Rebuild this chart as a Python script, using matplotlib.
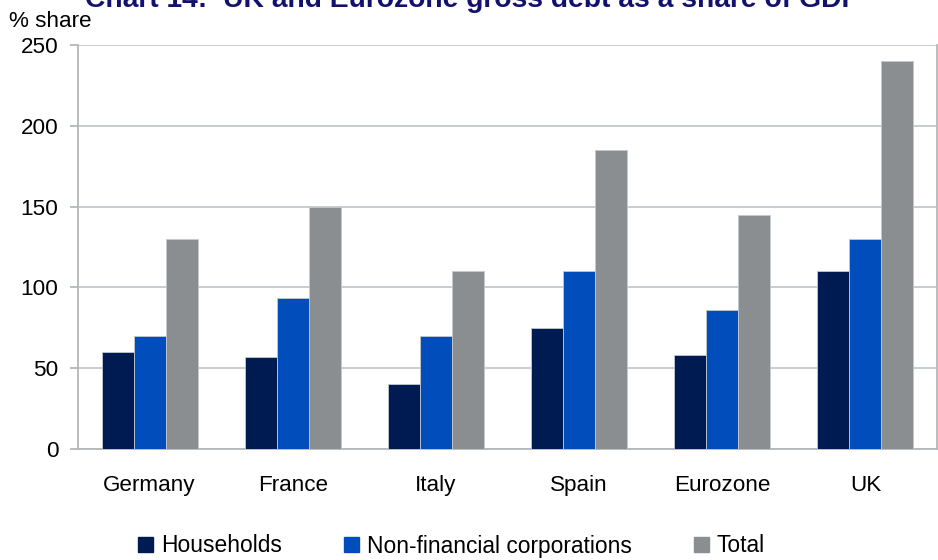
import matplotlib
matplotlib.use("Agg")
import matplotlib.pyplot as plt
import numpy as np
from matplotlib.patches import Patch

plt.rcParams['font.family'] = ['Liberation Sans', 'DejaVu Sans']

countries = ["Germany", "France", "Italy", "Spain", "Eurozone", "UK"]
households = [60, 57, 40, 75, 58, 110]
non_financial = [70, 93.5, 70, 110, 86, 130]
total = [130, 150, 110, 185, 145, 240]
series_names = ["Households", "Non-financial corporations", "Total"]
y_ticks = [0, 50, 100, 150, 200, 250]

colors = ["#001A52", "#004DBB", "#8A8E91"]

W, H = 938, 560
fig = plt.figure(figsize=(W / 100, H / 100), dpi=100)
ax = fig.add_axes([78 / W, 1 - 449 / H, 859 / W, 404 / H])

x = np.arange(len(countries))
bw = 0.2235
for i, (vals, c) in enumerate(zip([households, non_financial, total], colors)):
    ax.bar(x + (i - 1) * bw, vals, width=bw, color=c, edgecolor="#C4C8CC",
           linewidth=0.6, zorder=3)

ax.set_xlim(-0.5, len(countries) - 0.5)
ax.set_ylim(0, 250)
ax.set_yticks(y_ticks)
ax.set_xticks(x)
ax.set_xticklabels(countries)

ax.grid(axis="y", color="#C6C9CB", linewidth=1.3, zorder=0)
for side in ["left", "right", "bottom"]:
    ax.spines[side].set_color("#B4B7BA")
    ax.spines[side].set_linewidth(1.3)
ax.spines["top"].set_visible(False)

ax.tick_params(axis="y", length=6, width=1.3, color="#B4B7BA", pad=8,
               labelsize=16.2)
ax.tick_params(axis="x", length=0, pad=19, labelsize=16.2)

fig.text(472.5 / W, 1 - 7 / H, "Chart 14:  UK and Eurozone gross debt as a share of GDP",
         ha="center", va="baseline", fontsize=20.3, fontweight="bold",
         color="#12126E")
fig.text(9 / W, 1 - 27 / H, "% share", ha="left", va="baseline", fontsize=16.2)

handles = [Patch(facecolor=c, edgecolor=c) for c in colors]
fig.legend(handles, series_names, loc="center", ncol=3, frameon=False,
           bbox_to_anchor=(451.5 / W, 1 - 546 / H), fontsize=16.4,
           handlelength=0.66, handleheight=0.66, handletextpad=0.32,
           columnspacing=2.75, borderaxespad=0, borderpad=0)

fig.savefig("out.png", dpi=100)
